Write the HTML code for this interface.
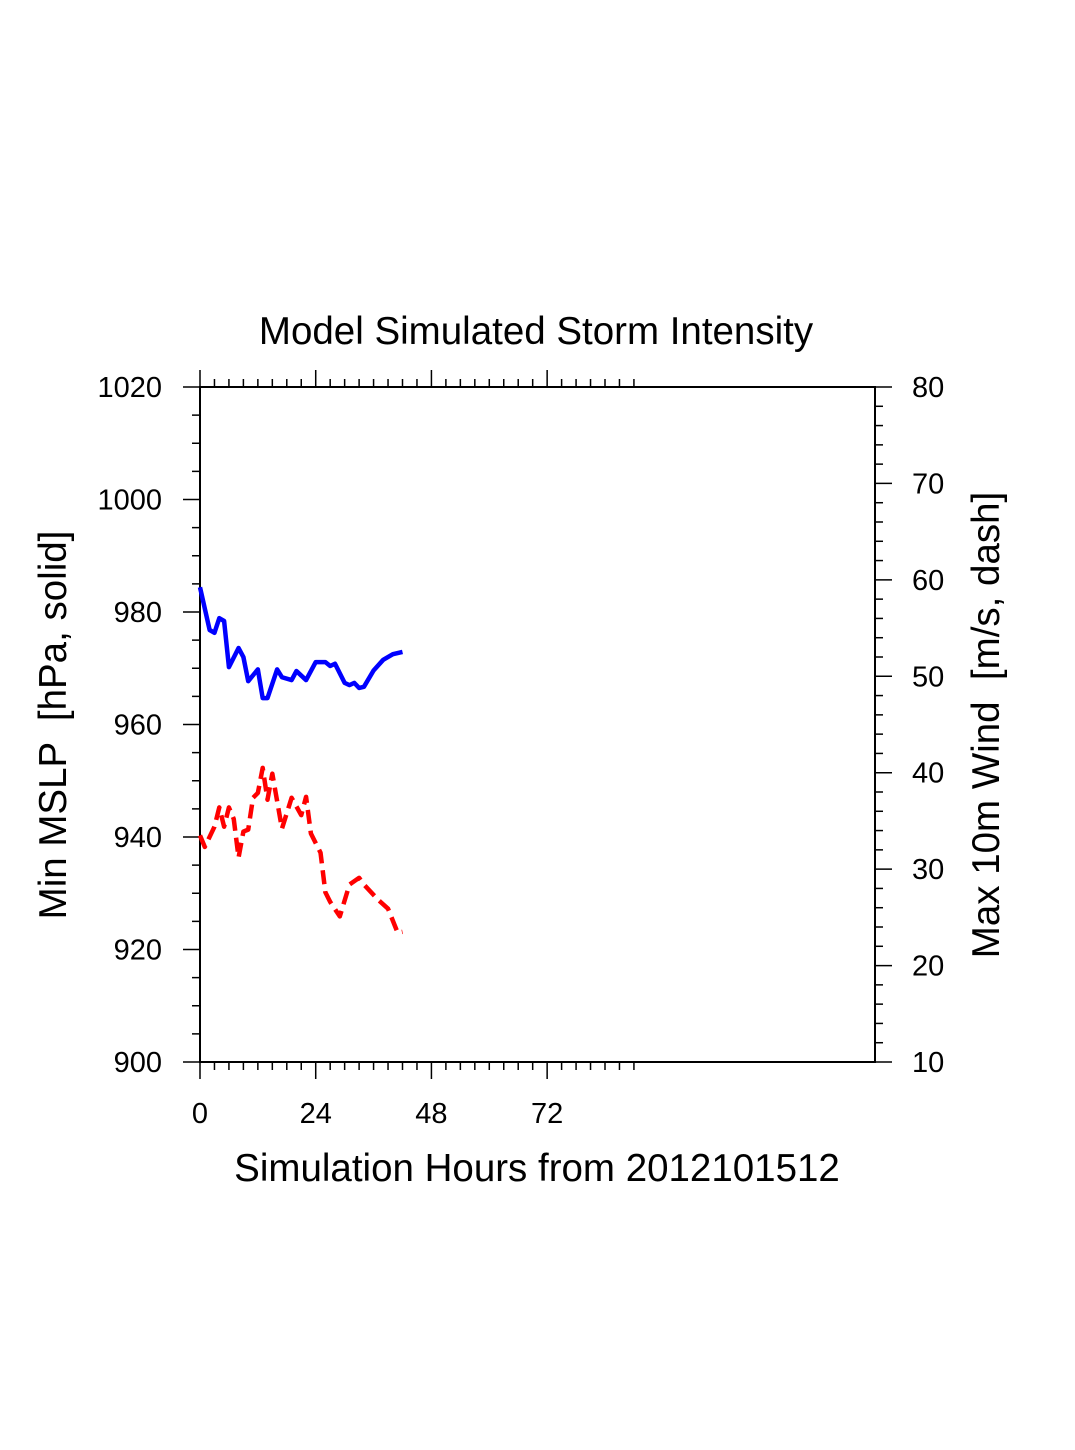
<!DOCTYPE html>
<html><head><meta charset="utf-8"><style>
body{margin:0;background:#fff}
svg{display:block;font-family:"Liberation Sans",sans-serif}
text{white-space:pre}
</style></head><body>
<svg id="c" width="1075" height="1450"></svg>
<script>
const mslpHours=[0,2,3,4,5,6,8,9,10,12,13,14,16,17,19,20,22,24,26,27,28,30,31,32,33,34,36,38,40,42];
const mslpValues=[984.4,976.8,976.3,978.9,978.4,970.2,973.6,972.0,967.7,969.8,964.7,964.7,969.8,968.4,967.9,969.5,967.9,971.1,971.1,970.4,970.8,967.4,967.0,967.4,966.5,966.7,969.6,971.5,972.5,972.9];
const windHours=[0,1,3,4,5,6,7,8,9,10,11,12,13,14,15,17,19,21,22,23,25,26,27,29,31,33,34,37,39,41,42];
const windValues=[33.5,32.3,34.4,36.4,34.4,36.4,35.2,31.2,33.9,34.1,37.4,37.9,40.5,37.2,39.9,34.2,37.4,35.6,37.5,33.7,31.7,27.6,26.6,25.1,28.4,29.1,28.4,26.8,25.9,23.4,23.5];
const xTicks=[0,24,48,72];
const leftTicks=[900,920,940,960,980,1000,1020];
const rightTicks=[10,20,30,40,50,60,70,80];

const L=200,R=875,T=387,B=1062;
const xs=h=>L+(h/140)*(R-L);
const yl=p=>B-(p-900)/120*(B-T);
const yr=w=>B-(w-10)/70*(B-T);
const svg=document.getElementById('c');
const NS='http://www.w3.org/2000/svg';
function mk(tag,attrs,parent){const e=document.createElementNS(NS,tag);for(const k in attrs)e.setAttribute(k,attrs[k]);(parent||svg).appendChild(e);return e;}

const frame=mk('rect',{x:L,y:T,width:R-L,height:B-T,fill:'none',stroke:'#000','stroke-width':2});



const ticks=mk('g',{stroke:'#000','stroke-width':1.5});


for(let h=0;h<=90;h+=3){const x=xs(h);const len=h%24===0?17:8;
 mk('line',{x1:x,x2:x,y1:B,y2:B+len},ticks);mk('line',{x1:x,x2:x,y1:T,y2:T-len},ticks);}
for(let p=900;p<=1020;p+=5){const y=yl(p);const len=p%20===0?17:8;mk('line',{x1:L,x2:L-len,y1:y,y2:y},ticks);}
for(let w=10;w<=80;w+=2){const y=yr(w);const len=w%10===0?17:8;mk('line',{x1:R,x2:R+len,y1:y,y2:y},ticks);}

xTicks.forEach(h=>{const t=mk('text',{x:xs(h),y:1123,'font-size':29,'text-anchor':'middle'});t.textContent=h;
 });
leftTicks.forEach(p=>{const t=mk('text',{x:162,y:yl(p)+10,'font-size':29,'text-anchor':'end'});t.textContent=p;
 });
rightTicks.forEach(w=>{const t=mk('text',{x:912,y:yr(w)+10,'font-size':29,'text-anchor':'start'});t.textContent=w;
 });

const title=mk('text',{x:536,y:344,'font-size':38.5,'text-anchor':'middle'});title.textContent='Model Simulated Storm Intensity';

const xt=mk('text',{x:537,y:1181,'font-size':38.5,'text-anchor':'middle'});xt.textContent='Simulation Hours from 2012101512';

const ylt=mk('text',{x:0,y:0,'font-size':38.5,'text-anchor':'middle',transform:'translate(66,725) rotate(-90)'});ylt.textContent='Min MSLP  [hPa, solid]';

const yrt=mk('text',{x:0,y:0,'font-size':38.5,'text-anchor':'middle',transform:'translate(999,725) rotate(-90)'});yrt.textContent='Max 10m Wind  [m/s, dash]';


const pm=mk('polyline',{points:mslpHours.map((h,i)=>xs(h)+','+yl(mslpValues[i])).join(' '),fill:'none',stroke:'#0000ff','stroke-width':4.5,'stroke-linejoin':'round'});

const pw=mk('polyline',{points:windHours.map((h,i)=>xs(h)+','+yr(windValues[i])).join(' '),fill:'none',stroke:'#ff0000','stroke-width':4.5,'stroke-dasharray':'14 7','stroke-linejoin':'round'});

</script>
</body></html>
